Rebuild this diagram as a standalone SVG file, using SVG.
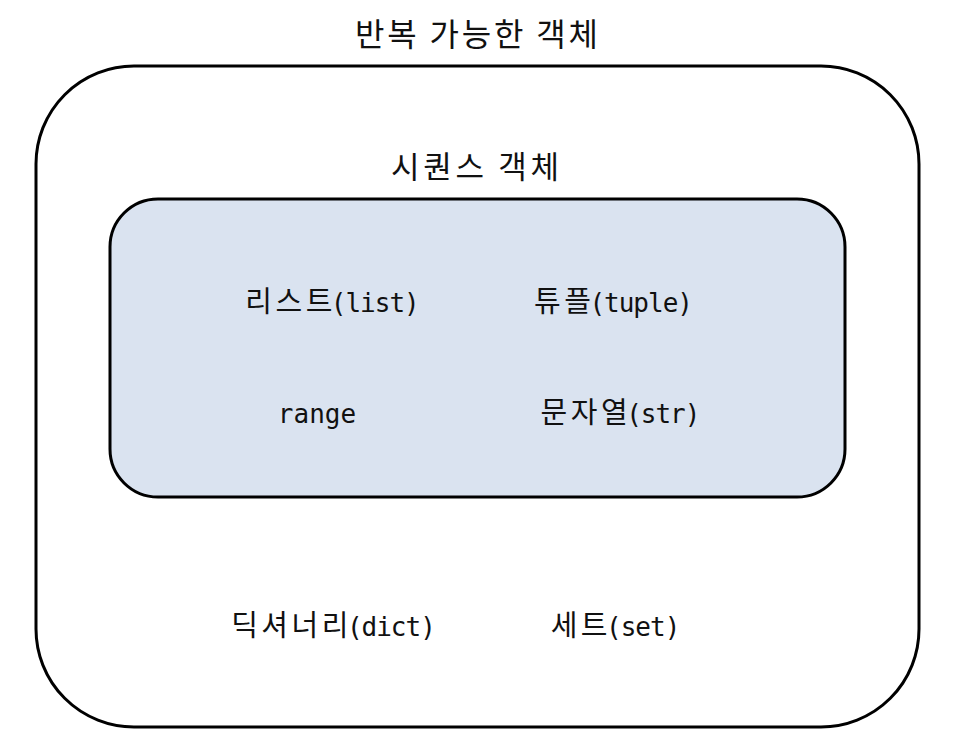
<svg xmlns="http://www.w3.org/2000/svg" width="955" height="739" viewBox="0 0 955 739">
  <style>
    .box { stroke: #000; stroke-width: 3; }
    .outer { fill: #ffffff; }
    .inner { fill: #dae3f0; }
    text { font-family: "DejaVu Sans Mono", "Noto Sans CJK KR", monospace; fill: #111; text-anchor: middle; }
    .big { font-family: "Noto Sans CJK KR", sans-serif; font-size: 32px; }
    .item { font-size: 26px; letter-spacing: -1px; }
    .ko { font-family: "Noto Sans CJK KR", sans-serif; font-size: 29px; letter-spacing: 3.5px; }
    .rng { font-size: 26px; letter-spacing: 0; }
  </style>
  <rect width="955" height="739" fill="#ffffff"/>
  <g id="iterable">
    <text class="big" x="476.5" y="46" textLength="243" lengthAdjust="spacing">반복 가능한 객체</text>
    <rect class="box outer" x="36" y="66" width="883" height="661" rx="98" ry="98"/>
  </g>
  <g id="sequence">
    <text class="big" x="475" y="178" style="font-size:31px" textLength="168" lengthAdjust="spacing">시퀀스 객체</text>
    <rect class="box inner" x="110" y="199" width="735" height="298" rx="48" ry="48"/>
  </g>
  <g id="list"><text class="item" x="332" y="312"><tspan class="ko">리스트</tspan><tspan dx="-5">(list)</tspan></text></g>
  <g id="tuple"><text class="item" x="613" y="312"><tspan class="ko">튜플</tspan><tspan dx="-5">(tuple)</tspan></text></g>
  <g id="range"><text class="item rng" x="317" y="423">range</text></g>
  <g id="str"><text class="item" x="620" y="423"><tspan class="ko">문자열</tspan><tspan dx="-5">(str)</tspan></text></g>
  <g id="dict"><text class="item" x="333" y="636"><tspan class="ko">딕셔너리</tspan><tspan dx="-5">(dict)</tspan></text></g>
  <g id="set"><text class="item" x="615" y="636"><tspan class="ko">세트</tspan><tspan dx="-5">(set)</tspan></text></g>
</svg>
